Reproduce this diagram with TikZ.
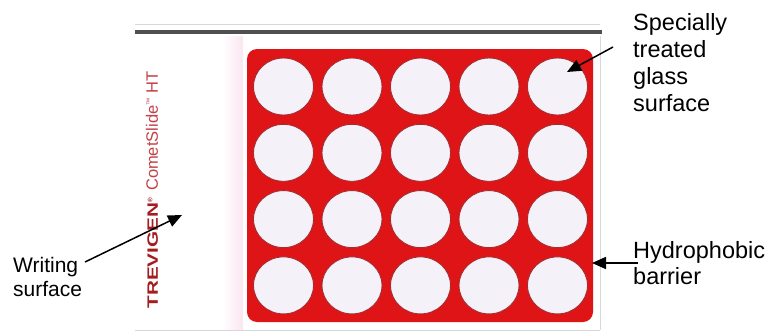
\documentclass[tikz,border=0pt]{standalone}
\usepackage{fontspec}
\setmainfont{Liberation Sans}
\usetikzlibrary{arrows.meta}
\definecolor{plate}{RGB}{222,20,22}
\definecolor{wellfill}{RGB}{244,242,248}
\definecolor{welledge}{RGB}{165,45,50}
\definecolor{trevdark}{RGB}{165,28,32}
\definecolor{trevlight}{RGB}{195,65,70}
\definecolor{pinkband}{RGB}{250,230,240}
\definecolor{topline}{RGB}{80,80,80}
\definecolor{edgegray}{RGB}{215,215,220}
\tikzset{
  lbl/.style={inner sep=0pt, align=left, anchor=north west, text=black},
  pointer/.style={line width=1.5pt, -{Triangle[length=14pt,width=12pt]}},
  well/.style={fill=wellfill, draw=welledge, line width=0.9pt},
}
\begin{document}
\begin{tikzpicture}[x=1pt,y=-1pt]
\useasboundingbox (0,0) rectangle (772,335);
% slide body
\shade[left color=white, right color=pinkband] (222,36) rectangle (243,330);
\draw[edgegray, line width=1pt] (600,36) -- (600,330);
\draw[edgegray, line width=1pt] (135,330) -- (600,330);
\draw[edgegray, line width=0.8pt] (135,24) -- (600,24);
\draw[topline, line width=4pt] (135,32) -- (602,32);
% red plate
\fill[plate, rounded corners=10pt] (247,49) rectangle (593,322);
% wells
\foreach \c in {0,...,4}{
  \foreach \r in {0,...,3}{
    \path[well] ({283.5+68.5*\c},{86.5+66.3*\r}) ellipse [x radius=30, y radius=28.5];
  }
}
% brand text
\node[rotate=90, inner sep=0pt] (brand) at (152,190)
  {\fontsize{15}{17}\selectfont
   {\color{trevdark}\scalebox{1.38}[1]{\bfseries TREVIGEN}\raisebox{5.5pt}{\fontsize{6.5}{7}\selectfont\bfseries ®}}\hspace{7pt}{\color{trevlight}\fontsize{16.5}{18}\selectfont CometSlide\raisebox{6pt}{\fontsize{7.5}{8}\selectfont ™} HT}};
% labels
\node[lbl, font=\fontsize{23.5}{27}\selectfont] (glass) at (633,13) {Specially\\treated\\glass\\surface};
\node[lbl, font=\fontsize{23.5}{26}\selectfont] (hydro) at (633,241) {Hydrophobic\\barrier};
\node[lbl, font=\fontsize{21}{23.5}\selectfont] (writing) at (13,257.5) {Writing\\surface};
% arrow ends
\coordinate (glassTail) at (613,47);
\coordinate (glassTip) at (567,72);
\coordinate (hydroTail) at (638,263);
\coordinate (hydroTip) at (592,263);
\coordinate (writeTail) at (85,262);
\coordinate (writeTip) at (182,215);
\draw[pointer] (glassTail) -- (glassTip);
\draw[pointer] (hydroTail) -- (hydroTip);
\draw[pointer] (writeTail) -- (writeTip);
\end{tikzpicture}
\end{document}
